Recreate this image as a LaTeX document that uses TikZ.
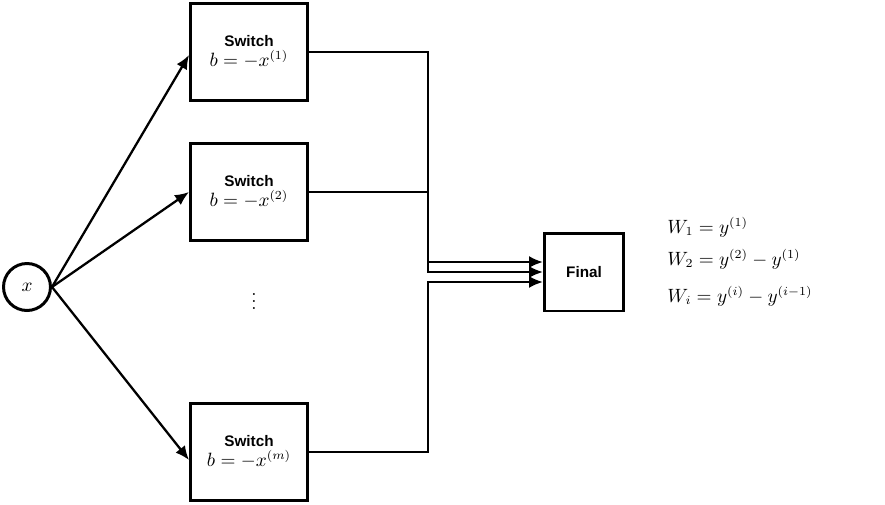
\documentclass[tikz,border=0pt]{standalone}
\usepackage{fontspec}
\newfontfamily\labelfont{Liberation Sans}
\usetikzlibrary{arrows.meta,positioning,calc}
\newcommand{\swlabel}[1]{{\labelfont\bfseries\fontsize{8.7}{9}\selectfont Switch}\\[-1pt]$b=-x^{(#1)}$}
\tikzset{
  switchbox/.style={draw,line width=1.7pt,minimum width=2.34cm,minimum height=1.94cm,
    align=center,inner sep=0pt},
  finalbox/.style={switchbox,minimum width=1.58cm,minimum height=1.56cm,
    font=\labelfont\bfseries\fontsize{8.7}{9}\selectfont},
  innode/.style={circle,draw,line width=1.7pt,minimum size=0.94cm,inner sep=0pt},
  link/.style={line width=1.3pt},
  arrow/.style={link,-{Latex[length=2.8mm,width=2.4mm]}},
  eqn/.style={anchor=base west,inner sep=0pt}
}

\begin{document}
\begin{tikzpicture}[x=0.02cm,y=-0.02cm,font=\fontsize{10.7}{12.5}\selectfont]
  \useasboundingbox (0,0) rectangle (885,504);
  \node[innode] (x) at (27,287) {$x$};
  \node[switchbox] (s1) at (249,52) {\swlabel{1}};
  \node[switchbox] (s2) at (249,192) {\swlabel{2}};
  \node[switchbox] (s3) at (249,452) {\swlabel{m}};
  \node (dots) at (254,296) {$\vdots$};
  \node[finalbox] (fin) at (584,272) {Final};
  % inputs to the switches
  \draw[arrow] (x.east) -- ($(s1.west)+(0,3)$);
  \draw[arrow] (x.east) -- (s2.west);
  \draw[arrow] (x.east) -- ($(s3.west)+(0,8)$);
  % switch outputs into the final node
  \draw[arrow] (s1.east) -- ++(119,0) |- ($(fin.west)+(0,-10)$);
  \draw[arrow] (s2.east) -- ++(119,0) |- (fin.west);
  \draw[arrow] (s3.east) -- ++(119,0) |- ($(fin.west)+(0,10)$);
  % weights
  \node[eqn] (w1) at (667,233) {$W_1 = y^{(1)}$};
  \node[eqn] (w2) at (667,265) {$W_2 = y^{(2)} - y^{(1)}$};
  \node[eqn] (wi) at (667,302) {$W_i = y^{(i)} - y^{(i-1)}$};
\end{tikzpicture}
\end{document}
